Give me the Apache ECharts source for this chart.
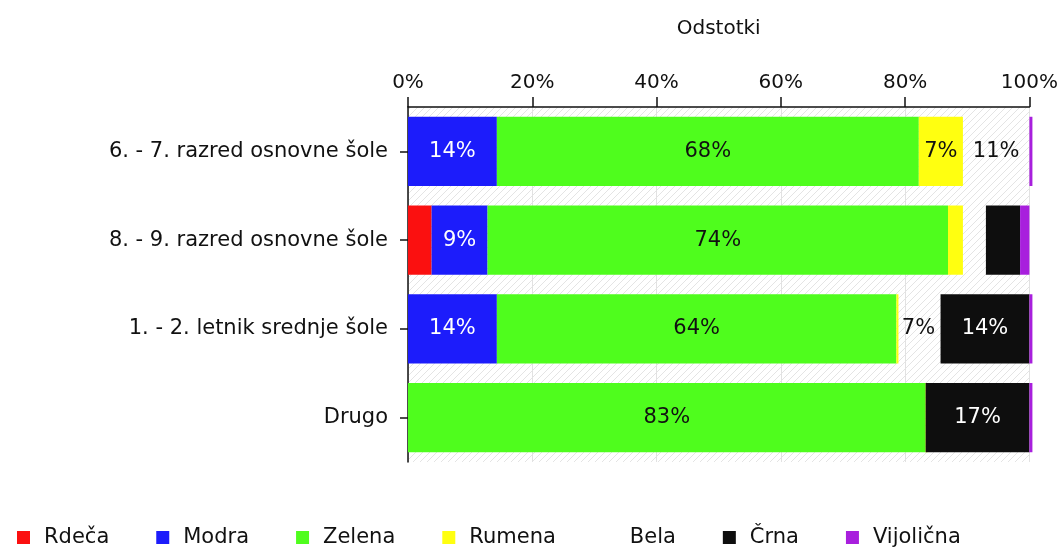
<!DOCTYPE html>
<html>
<head>
<meta charset="utf-8">
<script src="https://cdn.jsdelivr.net/npm/echarts@6/dist/echarts.min.js"></script>
<style>html,body{margin:0;padding:0;background:#fff}#chart{width:1061px;height:547px}</style>
</head>
<body>
<div id="chart"></div>
<script>
// data (percent of each row)
var categories = ['6. - 7. razred osnovne šole', '8. - 9. razred osnovne šole', '1. - 2. letnik srednje šole', 'Drugo'];
var rdeca     = [0, 3.8, 0, 0];
var modra     = [14.3, 9.0, 14.3, 0];
var zelena    = [67.9, 74.1, 64.3, 83.3];
var rumena    = [7.1, 2.4, 0, 0];
var bela      = [10.7, 3.7, 7.1, 0];
var crna      = [0, 5.5, 14.3, 16.7];
var vijolicna = [0, 1.5, 0, 0];
var xTicks = [0, 20, 40, 60, 80, 100];

var FONT = 'DejaVu Sans';
var FS = 21;

// light diagonal hatch for the plot background
var hatch = document.createElement('canvas');
hatch.width = 7; hatch.height = 7;
var hc = hatch.getContext('2d');
hc.fillStyle = '#fff'; hc.fillRect(0, 0, 7, 7);
hc.strokeStyle = '#e4e4e4'; hc.lineWidth = 1;
hc.beginPath();
hc.moveTo(-1, 8); hc.lineTo(8, -1);
hc.moveTo(-1, 1); hc.lineTo(1, -1);
hc.moveTo(6, 8); hc.lineTo(8, 6);
hc.stroke();

function lbl(p) {
    return p.value >= 6 ? Math.round(p.value) + '%' : '';
}

function bar(name, data, color, textColor, extra) {
    var s = {
        name: name, type: 'bar', stack: 'all', data: data,
        barCategoryGap: '22%',
        itemStyle: {color: color},
        label: {show: true, position: 'inside', formatter: lbl, color: textColor,
                fontFamily: FONT, fontSize: FS},
        emphasis: {disabled: true}
    };
    for (var k in extra) s[k] = extra[k];
    return s;
}

var myChart = echarts.init(document.getElementById('chart'));
myChart.setOption({
    animation: false,
    textStyle: {fontFamily: FONT},
    grid: {left: 408, right: 31, top: 107, bottom: 85, show: true, borderWidth: 0,
           backgroundColor: {image: hatch, repeat: 'repeat'}},
    xAxis: {
        type: 'value', position: 'top',
        min: xTicks[0], max: xTicks[xTicks.length - 1], interval: xTicks[1] - xTicks[0],
        name: 'Odstotki', nameLocation: 'middle', nameGap: 68,
        nameTextStyle: {color: '#111', fontSize: 20, fontFamily: FONT},
        axisLine: {show: true, lineStyle: {color: '#111', width: 1.5}},
        axisTick: {show: true, length: 10, lineStyle: {color: '#111', width: 1.5}},
        axisLabel: {formatter: '{value}%', color: '#111', fontSize: 20, fontFamily: FONT, margin: 14},
        splitLine: {show: true, lineStyle: {color: '#e2e2e2'}}
    },
    yAxis: {
        type: 'category', data: categories, inverse: true,
        axisLine: {show: true, lineStyle: {color: '#111', width: 1.5}},
        axisTick: {show: true, alignWithLabel: true, length: 8, lineStyle: {color: '#111', width: 1.5}},
        axisLabel: {color: '#111', fontSize: FS, fontFamily: FONT, margin: 20}
    },
    legend: {
        left: 12, top: 522, itemGap: 47, itemWidth: 13, itemHeight: 13,
        icon: 'rect',
        textStyle: {color: '#111', fontSize: FS, fontFamily: FONT, padding: [0, 0, 0, 9]},
        data: ['Rdeča', 'Modra', 'Zelena', 'Rumena', 'Bela', 'Črna', 'Vijolična']
    },
    series: [
        bar('Rdeča', rdeca, '#fb1010', '#111'),
        bar('Modra', modra, '#1c1cfb', '#fff'),
        bar('Zelena', zelena, '#4ffd1d', '#111'),
        bar('Rumena', rumena, '#ffff10', '#111', {barMinHeight: 2, clip: false}),
        bar('Bela', bela, 'rgba(255,255,255,0)', '#111'),
        bar('Črna', crna, '#0e0e0e', '#fff'),
        bar('Vijolična', vijolicna, '#a81fdd', '#fff', {barMinHeight: 3, clip: false})
    ]
});
</script>
</body>
</html>
